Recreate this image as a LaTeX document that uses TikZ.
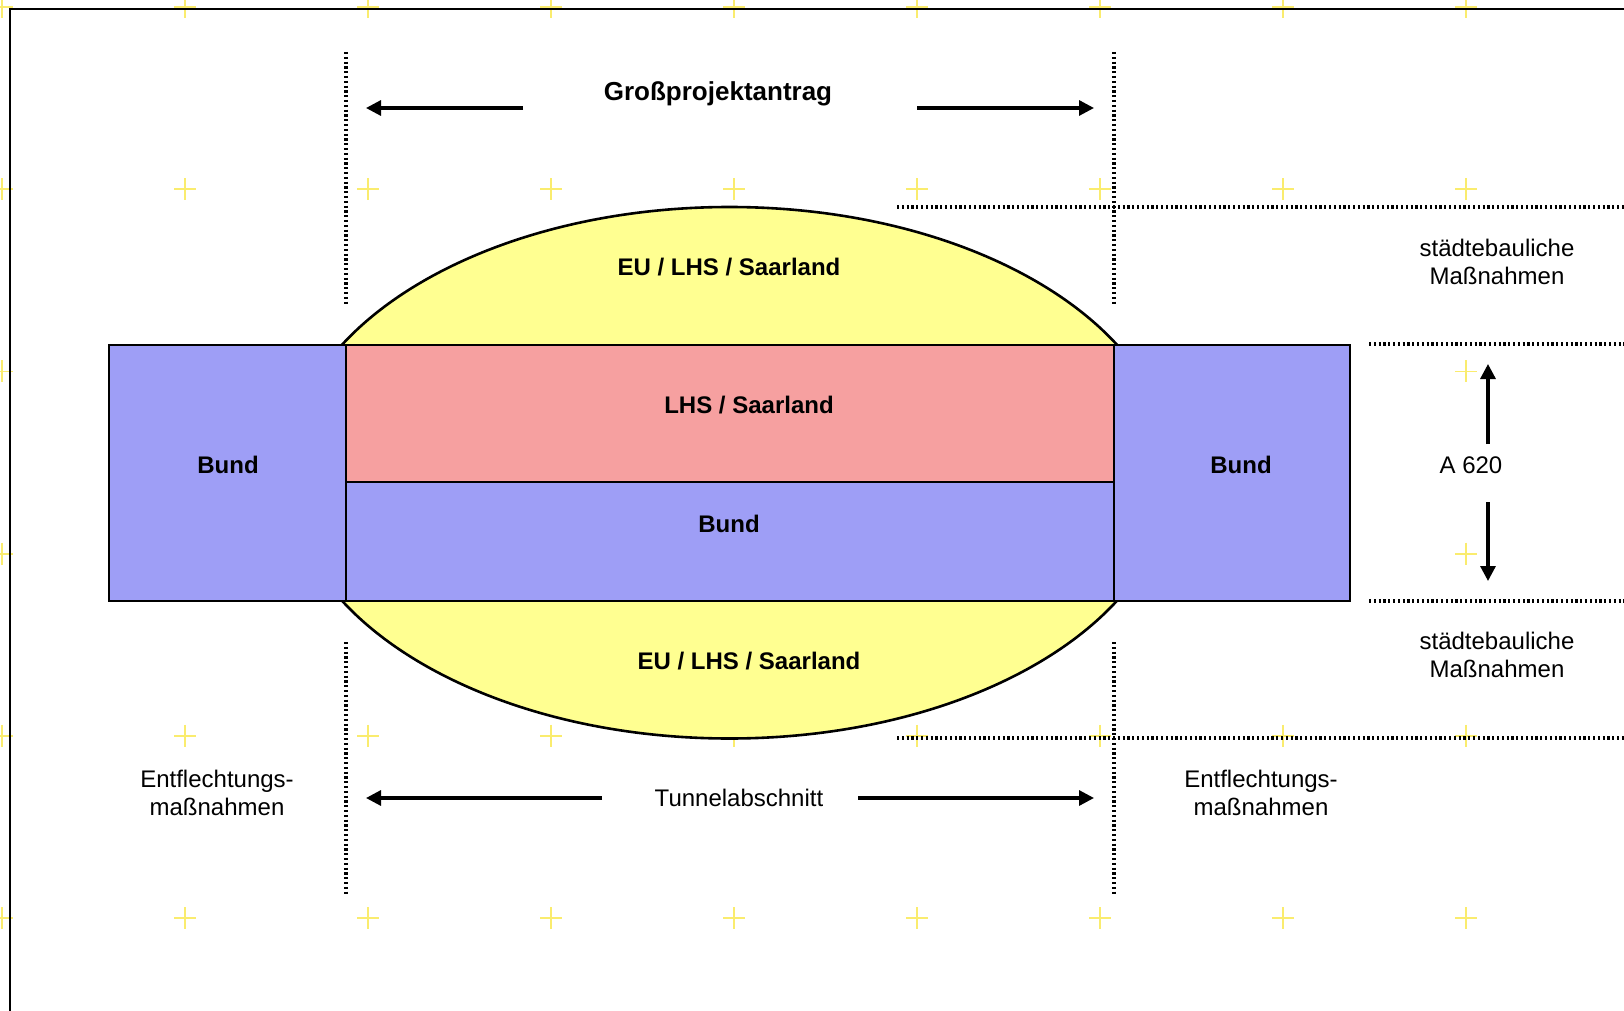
\documentclass[tikz,border=0pt]{standalone}
\usepackage{fontspec}
\setmainfont{Liberation Sans}
\usetikzlibrary{arrows.meta}
\definecolor{fillblue}{RGB}{158,158,246}
\definecolor{fillred}{RGB}{246,160,160}
\definecolor{fillyellow}{RGB}{255,255,145}
\definecolor{crossyellow}{RGB}{250,236,110}
\begin{document}
\begin{tikzpicture}[x=0.5pt,y=-0.5pt,
  lbl/.style={font=\fontsize{12}{14}\selectfont, align=center, inner sep=0pt, anchor=base},
  blbl/.style={font=\fontsize{12}{14}\selectfont\bfseries, align=center, inner sep=0pt, anchor=base},
  mlbl/.style={font=\fontsize{12}{14}\selectfont, align=center, inner sep=0pt, anchor=center},
  outline/.style={draw=black, line width=1.3pt},
  dotline/.style={draw=black, line width=1.6pt, dash pattern=on 1.1pt off 1.3pt},
  arr/.style={draw=black, line width=1.6pt, -{Triangle[length=7.5pt,width=7.5pt]}},
  crossmark/.style={draw=crossyellow, line width=0.9pt}
]
\useasboundingbox (0,0) rectangle (1624,1011);
\fill[white] (0,0) rectangle (1624,1011);

% background grid of crosses
\foreach \i in {0,...,8}{
  \foreach \j in {0,...,5}{
    \path[crossmark] ({2+183*\i-11},{7+182.2*\j}) -- ({2+183*\i+11},{7+182.2*\j})
                     ({2+183*\i},{7+182.2*\j-11}) -- ({2+183*\i},{7+182.2*\j+11});
  }
}

% ellipse
\path[outline, fill=fillyellow] (729.5,472.75) ellipse [x radius=442, y radius=265.75];

% rectangles
\path[outline, fill=fillblue] (109,345) rectangle (346,601);
\path[outline, fill=fillblue] (1114,345) rectangle (1350,601);
\path[outline, fill=fillred] (346,345) rectangle (1114,482);
\path[outline, fill=fillblue] (346,482) rectangle (1114,601);

% dotted lines
\path[dotline] (346,52) -- (346,305);
\path[dotline] (346,642) -- (346,895);
\path[dotline] (1114,52) -- (1114,305);
\path[dotline] (1114,642) -- (1114,895);
\path[dotline] (897,207) -- (1630,207);
\path[dotline] (1369,344) -- (1630,344);
\path[dotline] (1369,601) -- (1630,601);
\path[dotline] (897,738) -- (1630,738);

% labels
\node[blbl, font=\fontsize{13}{15}\selectfont\bfseries] (gp) at (718,101) {Großprojektantrag};
\node[lbl] (tun) at (739,806) {Tunnelabschnitt};
\node[blbl] (eutop) at (729,275) {EU / LHS / Saarland};
\node[blbl] (eubot) at (749,669) {EU / LHS / Saarland};
\node[blbl] (lhs) at (749,413) {LHS / Saarland};
\node[blbl] (bundc) at (729,532) {Bund};
\node[blbl] (bundl) at (228,473) {Bund};
\node[blbl] (bundr) at (1241,473) {Bund};
\node[mlbl] (stadttop) at (1497,262) {städtebauliche\\Maßnahmen};
\node[mlbl] (stadtbot) at (1497,655) {städtebauliche\\Maßnahmen};
\node[lbl] (a620) at (1471,473) {A 620};
\node[mlbl] (entl) at (217,793) {Entflechtungs-\\maßnahmen};
\node[mlbl] (entr) at (1261,793) {Entflechtungs-\\maßnahmen};

% arrows
\coordinate (gpL0) at (523,108); \coordinate (gpL1) at (366,108);
\coordinate (gpR0) at (917,108); \coordinate (gpR1) at (1094,108);
\coordinate (tuL0) at (602,798); \coordinate (tuL1) at (366,798);
\coordinate (tuR0) at (858,798); \coordinate (tuR1) at (1094,798);
\coordinate (aU0) at (1488,444); \coordinate (aU1) at (1488,364);
\coordinate (aD0) at (1488,502); \coordinate (aD1) at (1488,581);
\draw[arr] (gpL0) -- (gpL1);
\draw[arr] (gpR0) -- (gpR1);
\draw[arr] (tuL0) -- (tuL1);
\draw[arr] (tuR0) -- (tuR1);
\draw[arr] (aU0) -- (aU1);
\draw[arr] (aD0) -- (aD1);

% frame
\draw[black, line width=1.4pt] (10,1020) -- (10,9) -- (1630,9);
\end{tikzpicture}
\end{document}
